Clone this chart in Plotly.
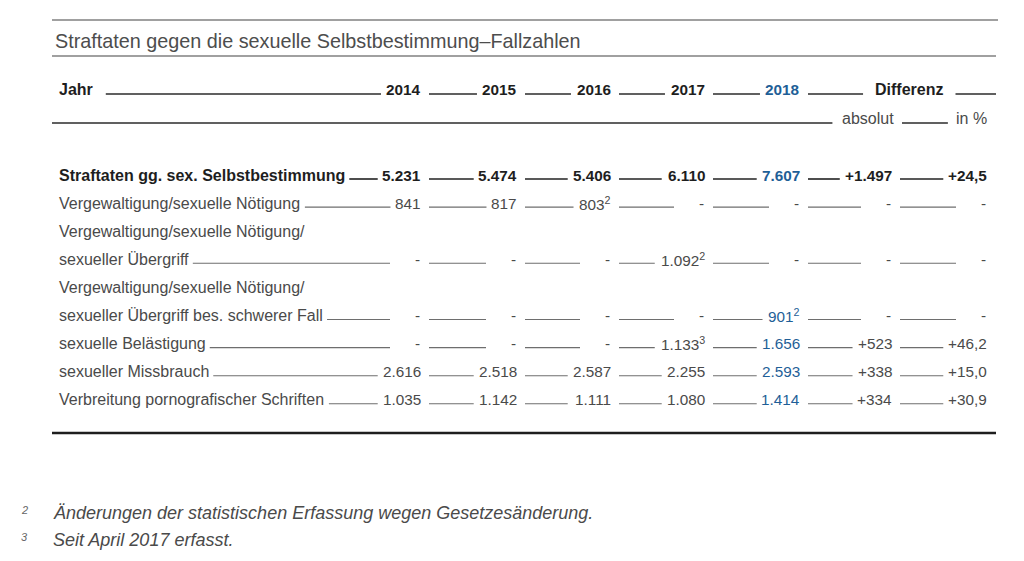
import plotly.graph_objects as go

# ---------------- data ----------------
title = "Straftaten gegen die sexuelle Selbstbestimmung\u2013Fallzahlen"
years = ["2014", "2015", "2016", "2017", "2018"]
categories = [
    "Straftaten gg. sex. Selbstbestimmung",
    "Vergewaltigung/sexuelle Nötigung",
    "Vergewaltigung/sexuelle Nötigung/\nsexueller Übergriff",
    "Vergewaltigung/sexuelle Nötigung/\nsexueller Übergriff bes. schwerer Fall",
    "sexuelle Belästigung",
    "sexueller Missbrauch",
    "Verbreitung pornografischer Schriften",
]
cases_2014 = [5231, 841, None, None, None, 2616, 1035]
cases_2015 = [5474, 817, None, None, None, 2518, 1142]
cases_2016 = [5406, 803, None, None, None, 2587, 1111]
cases_2017 = [6110, None, 1092, None, 1133, 2255, 1080]
cases_2018 = [7607, None, None, 901, 1656, 2593, 1414]
diff_abs = [1497, None, None, None, 523, 338, 334]
diff_pct = [24.5, None, None, None, 46.2, 15.0, 30.9]
# footnote marks: (category index, year index) -> mark
footnote_marks = {(1, 2): "2", (2, 3): "2", (3, 4): "2", (4, 3): "3"}
footnotes = [("2", "Änderungen der statistischen Erfassung wegen Gesetzesänderung."),
             ("3", "Seit April 2017 erfasst.")]

# ---------------- styles / layout ----------------
FONT = "Liberation Sans, Arial, Helvetica, sans-serif"
GREY_TXT = "#4a4a4a"
DARK_TXT = "#1e1e1e"
BLUE = "#1f5f97"
RULE = "#7a7a7a"
LEFT, RIGHT = 52, 996
LABEL_X = 58
COL_RIGHT = [422, 518, 612, 706, 801, 893, 988]
ROW0_Y, ROW_STEP = 175, 28.1
LBL_SIZE, NUM_SIZE = 16, 15.3

REG = {" ": 278, ".": 278, ",": 278, "/": 278, "-": 333, "+": 584, "%": 889,
       "A": 667, "B": 667, "C": 722, "D": 722, "E": 667, "F": 611, "G": 778, "H": 722,
       "I": 278, "J": 500, "K": 667, "L": 556, "M": 833, "N": 722, "O": 778, "P": 667,
       "Q": 778, "R": 722, "S": 667, "T": 611, "U": 722, "V": 667, "W": 944, "X": 667,
       "Y": 667, "Z": 611, "Ä": 667, "Ö": 778, "Ü": 722,
       "a": 556, "b": 556, "c": 500, "d": 556, "e": 556, "f": 278, "g": 556, "h": 556,
       "i": 222, "j": 222, "k": 500, "l": 222, "m": 833, "n": 556, "o": 556, "p": 556,
       "q": 556, "r": 333, "s": 500, "t": 278, "u": 556, "v": 500, "w": 722, "x": 500,
       "y": 500, "z": 500, "ä": 556, "ö": 556, "ü": 556}
BOLD = dict(REG)
BOLD.update({"A": 722, "B": 722, "J": 556, "K": 722, "L": 611,
             "b": 611, "c": 556, "d": 611, "f": 333, "g": 611, "h": 611, "i": 278,
             "j": 278, "k": 556, "l": 278, "m": 889, "n": 611, "o": 611, "p": 611,
             "q": 611, "r": 389, "s": 556, "t": 333, "u": 611, "v": 556, "w": 778,
             "x": 556, "y": 556, "ö": 611, "ü": 611, "ä": 556})


def tw(s, size, bold=False):
    tab = BOLD if bold else REG
    return sum(tab.get(ch, 556) for ch in s) / 1000.0 * size


def de_int(v):
    return f"{v:,}".replace(",", ".")


fig = go.Figure()
ann = []
lines = {}  # style -> (xs, ys)


def add_line(x0, x1, y, style):
    xs, ys = lines.setdefault(style, ([], []))
    xs += [x0, x1, None]
    ys += [y, y, None]


def add_text(x, y, text, size, color, bold=False, anchor="right", italic=False):
    t = f"<b>{text}</b>" if bold else text
    if italic:
        t = f"<i>{t}</i>"
    ann.append(dict(x=x, y=y, xref="x", yref="y", text=t, showarrow=False,
                    xanchor=anchor, yanchor="middle", borderpad=0,
                    font=dict(family=FONT, size=size, color=color)))


# top rules + title
add_line(LEFT, RIGHT + 2, 20, "rule")
add_text(LEFT + 2, 41, title, 19.8, "#4d4d4d", anchor="left")
add_line(LEFT, RIGHT, 56, "rule")

# header row
HY = 89
add_text(LABEL_X, HY, "Jahr", LBL_SIZE, DARK_TXT, bold=True, anchor="left")
prev_end = LABEL_X + tw("Jahr", LBL_SIZE, True) + 14
for i, yr in enumerate(years):
    w = tw(yr, NUM_SIZE, True)
    add_line(prev_end, COL_RIGHT[i] - w - 7, HY + 5, "head")
    add_text(COL_RIGHT[i], HY, yr, NUM_SIZE, BLUE if i == 4 else DARK_TXT, bold=True)
    prev_end = COL_RIGHT[i] + 7
diff_right = (COL_RIGHT[5] + COL_RIGHT[6]) / 2 + 3
add_line(prev_end, diff_right - tw("Differenz", LBL_SIZE, True) - 12, HY + 5, "head")
add_text(diff_right, HY, "Differenz", LBL_SIZE, DARK_TXT, bold=True)
add_line(diff_right + 12, RIGHT, HY + 5, "head")

SY = 118
add_line(LEFT, COL_RIGHT[5] - tw("absolut", LBL_SIZE) - 9, SY + 5, "head")
add_text(COL_RIGHT[5] + 2, SY, "absolut", LBL_SIZE, GREY_TXT)
add_line(COL_RIGHT[5] + 9, COL_RIGHT[6] - tw("in %", LBL_SIZE) - 9, SY + 5, "head")
add_text(COL_RIGHT[6], SY, "in %", LBL_SIZE, GREY_TXT)

# body rows
series = [cases_2014, cases_2015, cases_2016, cases_2017, cases_2018]
row = 0
for ci, cat in enumerate(categories):
    parts = cat.split("\n")
    bold = ci == 0
    txt_col = DARK_TXT if bold else GREY_TXT
    style = "bold" if bold else "row"
    for p in parts[:-1]:
        add_text(LABEL_X, ROW0_Y + ROW_STEP * row, p, LBL_SIZE, txt_col, anchor="left")
        row += 1
    y = ROW0_Y + ROW_STEP * row
    label = parts[-1]
    add_text(LABEL_X, y, label, LBL_SIZE, txt_col, bold=bold, anchor="left")
    prev_end = LABEL_X + tw(label, LBL_SIZE, bold) + 5
    cells = []
    for yi, s in enumerate(series):
        v = s[ci]
        cells.append((de_int(v) if v is not None else None, footnote_marks.get((ci, yi))))
    cells.append(("+" + de_int(diff_abs[ci]) if diff_abs[ci] is not None else None, None))
    cells.append((f"+{diff_pct[ci]:.1f}".replace(".", ",") if diff_pct[ci] is not None else None, None))
    for k, (txt, mark) in enumerate(cells):
        color = BLUE if k == 4 else txt_col
        if txt is None:
            add_line(prev_end, COL_RIGHT[k] - 32, y + 4, style)
            add_text(COL_RIGHT[k] - 1, y, "-", NUM_SIZE, txt_col)
        else:
            w = tw(txt, NUM_SIZE, bold)
            shown = txt
            if mark:
                w += 0.7 * NUM_SIZE * 0.556 + 1
                shown = f"{txt}<sup>{mark}</sup>"
            add_line(prev_end, COL_RIGHT[k] - w - 6, y + 4, style)
            add_text(COL_RIGHT[k], y, shown, NUM_SIZE, color, bold=bold)
        prev_end = COL_RIGHT[k] + 7
    row += 1

# bottom rule
add_line(LEFT, RIGHT, 433, "bottom")

# footnotes
for i, (mark, text) in enumerate(footnotes):
    fy = 513 + 27 * i
    add_text(20, fy - 3, mark, 11, "#666666", anchor="left", italic=True)
    add_text(52, fy, text, 18, "#4a4a4a", anchor="left", italic=True)

STYLES = {"rule": ("#808080", 1.6), "head": ("#2b2b2b", 1.5), "row": ("#6e6e6e", 1.1),
          "bold": ("#222222", 1.6), "bottom": ("#1e1e1e", 2.6)}
for key, (xs, ys) in lines.items():
    c, w = STYLES[key]
    fig.add_trace(go.Scatter(x=xs, y=ys, mode="lines", line=dict(color=c, width=w),
                             hoverinfo="skip", showlegend=False))

fig.update_layout(
    width=1024, height=561, margin=dict(l=0, r=0, t=0, b=0),
    paper_bgcolor="white", plot_bgcolor="white", showlegend=False,
    xaxis=dict(range=[0, 1024], visible=False, fixedrange=True),
    yaxis=dict(range=[561, 0], visible=False, fixedrange=True),
    annotations=ann,
)
fig.write_html("out.html", config={"displayModeBar": False},
               post_script="document.body.style.margin='0';document.body.style.overflow='hidden';")
